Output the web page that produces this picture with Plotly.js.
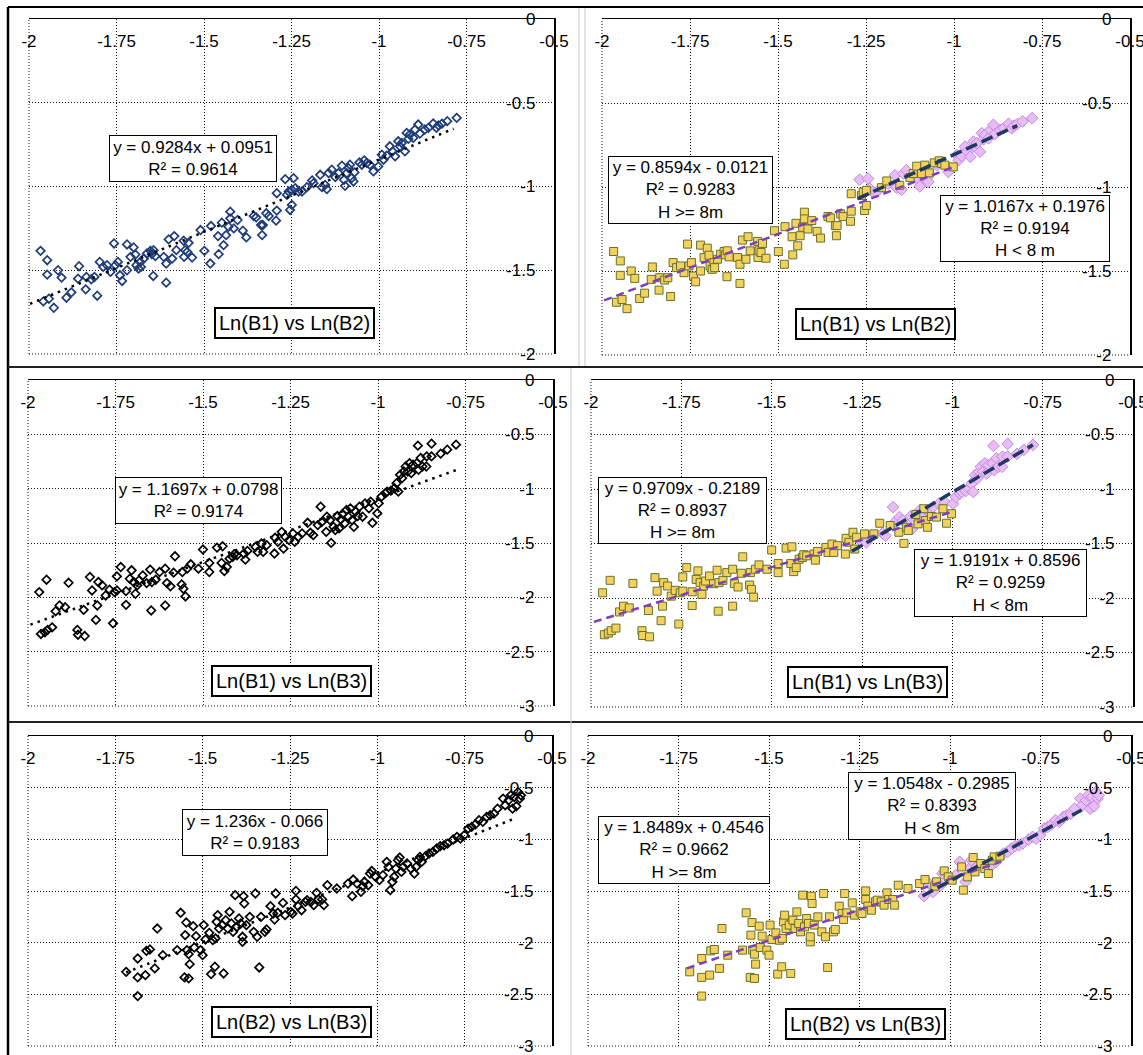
<!DOCTYPE html>
<html><head><meta charset="utf-8">
<script src="https://cdn.plot.ly/plotly-3.0.1.min.js"></script>
<style>html,body{margin:0;padding:0;background:#fff}</style>
</head><body><div id="chart" style="width:1143px;height:1055px"></div>
<script>
// ---------- DATA ----------
// Ln(B1) vs Ln(B2): H >= 8m group
const b12HiX = [-1.967,-1.948,-1.948,-1.917,-1.907,-1.959,-1.943,-1.929,-1.893,-1.879,
-1.860,-1.857,-1.838,-1.836,-1.822,-1.813,-1.805,-1.798,-1.788,-1.777,
-1.767,-1.757,-1.753,-1.746,-1.740,-1.734,-1.720,-1.720,-1.710,-1.701,
-1.696,-1.693,-1.687,-1.682,-1.680,-1.672,-1.663,-1.653,-1.649,-1.644,
-1.645,-1.639,-1.615,-1.608,-1.608,-1.601,-1.591,-1.585,-1.579,-1.558,
-1.557,-1.554,-1.548,-1.544,-1.534,-1.510,-1.499,-1.482,-1.480,-1.460,
-1.458,-1.449,-1.444,-1.437,-1.430,-1.425,-1.425,-1.415,-1.404,-1.389,
-1.379,-1.358,-1.351,-1.337,-1.332,-1.334,-1.322,-1.315,-1.294,-1.292,
-1.292,-1.263,-1.254,-1.249,-1.258,-1.249,-1.206,-1.191,-1.154,-1.125,
-1.116,-1.106,-1.092,-1.083,-1.070,-1.056,-1.042,-1.035,-1.026,-1.002];
const b12HiY = [-1.384,-1.44,-1.526,-1.50,-1.544,-1.686,-1.67,-1.724,-1.664,-1.632,
-1.55,-1.476,-1.614,-1.54,-1.554,-1.54,-1.652,-1.45,-1.48,-1.47,
-1.51,-1.34,-1.47,-1.45,-1.53,-1.564,-1.50,-1.346,-1.42,-1.364,
-1.406,-1.47,-1.49,-1.45,-1.48,-1.43,-1.40,-1.384,-1.404,-1.38,
-1.534,-1.416,-1.42,-1.46,-1.574,-1.316,-1.43,-1.296,-1.38,-1.324,
-1.42,-1.38,-1.39,-1.336,-1.424,-1.26,-1.384,-1.46,-1.236,-1.296,
-1.404,-1.216,-1.35,-1.29,-1.24,-1.15,-1.19,-1.25,-1.20,-1.264,
-1.304,-1.176,-1.184,-1.23,-1.23,-1.29,-1.16,-1.176,-1.204,-1.144,
-1.04,-1.05,-1.14,-1.11,-1.03,-1.02,-1.004,-0.964,-0.99,-0.944,
-0.92,-0.876,-0.92,-0.87,-0.916,-0.856,-0.844,-0.86,-0.87,-0.88];
// Ln(B1) vs Ln(B2): H < 8m group
const b12LoX = [-1.268,-1.244,-1.239,-1.230,-1.220,-1.187,-1.168,-1.163,-1.149,-1.144,
-1.135,-1.100,-1.097,-1.087,-1.078,-1.073,-1.049,-1.016,-0.992,-0.987,
-0.978,-0.969,-0.961,-0.954,-0.945,-0.940,-0.935,-0.926,-0.921,-0.916,
-0.912,-0.902,-0.897,-0.888,-0.883,-0.869,-0.859,-0.845,-0.836,-0.830,
-0.820,-0.805,-0.778];
const b12LoY = [-0.956,-0.95,-1.01,-1.03,-1.03,-0.98,-0.93,-1.004,-1.016,-0.92,
-0.90,-0.96,-0.996,-0.89,-0.95,-0.97,-0.87,-0.91,-0.81,-0.84,
-0.816,-0.76,-0.79,-0.82,-0.73,-0.76,-0.74,-0.79,-0.68,-0.716,
-0.69,-0.71,-0.66,-0.63,-0.684,-0.66,-0.65,-0.624,-0.65,-0.635,
-0.625,-0.61,-0.59];

// Ln(B1) vs Ln(B3)
const b13HiX = [-1.968,-1.947,-1.963,-1.952,-1.944,-1.931,-1.921,-1.910,-1.894,-1.884,
-1.859,-1.857,-1.838,-1.841,-1.823,-1.817,-1.806,-1.802,-1.799,-1.788,
-1.778,-1.767,-1.757,-1.753,-1.746,-1.746,-1.735,-1.720,-1.720,-1.704,
-1.709,-1.698,-1.693,-1.688,-1.683,-1.672,-1.661,-1.651,-1.648,-1.646,
-1.635,-1.624,-1.608,-1.608,-1.603,-1.593,-1.584,-1.580,-1.561,-1.556,
-1.550,-1.559,-1.545,-1.535,-1.513,-1.500,-1.482,-1.482,-1.460,-1.444,
-1.447,-1.439,-1.432,-1.424,-1.415,-1.411,-1.403,-1.383,-1.379,-1.373,
-1.350,-1.344,-1.333,-1.328,-1.318,-1.296,-1.294,-1.286,-1.275,-1.270,
-1.265,-1.243,-1.217,-1.201,-1.172,-1.148,-1.134,-1.127,-1.122,-1.101,
-1.095,-1.079,-1.074,-1.069,-1.058,-1.044,-1.026,-1.016,-1.002];
const b13HiY = [-1.952,-1.838,-2.337,-2.322,-2.300,-2.276,-2.128,-2.075,-2.091,-1.866,
-2.300,-2.344,-2.356,-2.115,-1.813,-1.937,-2.208,-2.075,-1.859,-1.890,
-1.983,-1.930,-2.239,-1.952,-1.937,-1.807,-1.721,-1.943,-2.069,-1.751,
-1.829,-1.859,-1.967,-1.890,-1.844,-1.798,-1.869,-1.745,-2.121,-1.859,
-1.838,-1.767,-1.736,-2.075,-1.869,-1.899,-1.773,-1.622,-1.881,-1.921,
-1.992,-1.767,-1.736,-1.696,-1.736,-1.560,-1.767,-1.684,-1.542,-1.530,
-1.684,-1.758,-1.721,-1.644,-1.628,-1.603,-1.613,-1.597,-1.653,-1.573,
-1.536,-1.582,-1.505,-1.582,-1.520,-1.597,-1.452,-1.489,-1.397,-1.551,
-1.443,-1.412,-1.412,-1.314,-1.335,-1.397,-1.499,-1.351,-1.381,-1.233,
-1.320,-1.181,-1.289,-1.351,-1.252,-1.258,-1.181,-1.314,-1.227];
const b13LoX = [-1.254,-1.238,-1.228,-1.193,-1.185,-1.164,-1.161,-1.146,-1.137,-1.116,
-1.111,-1.106,-1.090,-1.085,-1.064,-1.053,-1.037,-1.021,-0.998,-0.990,
-0.979,-0.974,-0.963,-0.953,-0.947,-0.942,-0.937,-0.931,-0.926,-0.921,
-0.915,-0.910,-0.905,-0.900,-0.889,-0.884,-0.878,-0.873,-0.862,-0.886,
-0.847,-0.861,-0.847,-0.821,-0.802,-0.777];
const b13LoY = [-1.474,-1.489,-1.443,-1.406,-1.428,-1.166,-1.308,-1.258,-1.289,-1.252,
-1.366,-1.283,-1.196,-1.258,-1.212,-1.166,-1.135,-1.119,-1.135,-1.073,
-1.042,-1.027,-1.018,-0.996,-0.950,-1.027,-0.873,-0.903,-0.842,-0.796,
-0.842,-0.765,-0.857,-0.780,-0.765,-0.826,-0.718,-0.796,-0.796,-0.604,
-0.586,-0.703,-0.703,-0.678,-0.641,-0.595];

// Ln(B2) vs Ln(B3)
const b23HiX = [-1.719,-1.686,-1.686,-1.686,-1.664,-1.661,-1.651,-1.637,-1.630,-1.614,
-1.573,-1.563,-1.552,-1.540,-1.550,-1.547,-1.545,-1.540,-1.537,-1.527,
-1.524,-1.519,-1.506,-1.500,-1.497,-1.492,-1.481,-1.476,-1.471,-1.465,
-1.463,-1.460,-1.457,-1.453,-1.444,-1.440,-1.434,-1.428,-1.423,-1.418,
-1.413,-1.407,-1.402,-1.396,-1.391,-1.386,-1.386,-1.383,-1.381,-1.375,
-1.365,-1.354,-1.349,-1.344,-1.338,-1.333,-1.322,-1.317,-1.306,-1.298,
-1.294,-1.291,-1.285,-1.270,-1.264,-1.248,-1.243,-1.233,-1.233,-1.227,
-1.217,-1.206,-1.201,-1.190,-1.182,-1.174,-1.169,-1.158,-1.153,-1.143,
-1.116,-1.084,-1.069,-1.042,-1.037,-1.016,-1.005,-0.994,-0.968,-0.963,
-0.952,-0.936,-0.931,-0.915,-0.904,-0.894,-0.883,-0.878,-0.862];
const b23HiY = [-2.282,-2.153,-2.336,-2.517,-2.314,-2.079,-2.066,-2.249,-1.863,-2.121,
-2.072,-1.711,-2.336,-2.346,-1.927,-1.805,-2.072,-2.111,-2.208,-1.840,
-2.047,-1.937,-2.072,-2.121,-1.830,-1.969,-1.905,-2.304,-1.976,-2.233,
-1.959,-1.798,-1.734,-1.863,-1.830,-2.298,-1.782,-1.863,-1.702,-1.814,
-1.895,-1.540,-1.847,-1.766,-1.814,-1.992,-1.943,-1.550,-1.621,-1.830,
-1.750,-1.895,-1.524,-1.943,-2.240,-1.750,-1.895,-1.872,-1.647,-1.718,
-1.776,-1.524,-1.711,-1.615,-1.734,-1.702,-1.718,-1.499,-1.582,-1.647,
-1.686,-1.605,-1.589,-1.605,-1.637,-1.518,-1.582,-1.582,-1.637,-1.444,
-1.476,-1.428,-1.389,-1.453,-1.411,-1.305,-1.363,-1.395,-1.267,-1.492,
-1.363,-1.176,-1.315,-1.234,-1.283,-1.331,-1.202,-1.170,-1.163];
const b23LoX = [-1.072,-1.058,-1.047,-1.026,-1.021,-0.984,-0.973,-0.957,-0.947,-0.941,
-0.926,-0.889,-0.873,-0.852,-0.841,-0.830,-0.820,-0.809,-0.799,-0.783,
-0.772,-0.762,-0.751,-0.740,-0.730,-0.719,-0.709,-0.698,-0.687,-0.677,
-0.666,-0.656,-0.640,-0.634,-0.624,-0.618,-0.608,-0.597,-0.592,-0.589,
-0.613,-0.602];
const b23LoY = [-1.550,-1.428,-1.508,-1.444,-1.331,-1.347,-1.218,-1.411,-1.283,-1.202,
-1.267,-1.267,-1.218,-1.137,-1.121,-1.089,-1.066,-1.057,-1.041,-1.002,
-0.976,-0.993,-0.960,-0.896,-0.880,-0.854,-0.815,-0.831,-0.783,-0.767,
-0.751,-0.703,-0.606,-0.670,-0.622,-0.574,-0.590,-0.541,-0.606,-0.574,
-0.703,-0.680];

// trend lines as drawn (panel1 all, panel2 H, panel2 L, panel3 all, panel4 H, panel4 L, panel5 all, panel6 H, panel6 L)
const fitSlope     = [0.864, 0.80, 0.96, 1.17, 1.018, 1.95, 1.34, 1.189, 1.89];
const fitIntercept = [0.025, -0.08, 0.153, 0.08, -0.191, 0.92, 0.015, -0.195, 0.486];
const fitXStart    = [-1.997, -1.994, -1.273, -1.993, -1.992, -1.278, -1.719, -1.727, -1.076];
const fitXEnd      = [-0.787, -1.006, -0.820, -0.772, -1.0, -0.777, -0.603, -0.859, -0.636];

// tick labels
const xTickVals = [-2,-1.75,-1.5,-1.25,-1,-0.75,-0.5];
const xTickText = ['-2','-1.75','-1.5','-1.25','-1','-0.75','-0.5'];
const yTickVals2 = [0,-0.5,-1,-1.5,-2];
const yTickText2 = ['0','-0.5','-1','-1.5','-2'];
const yTickVals3 = [0,-0.5,-1,-1.5,-2,-2.5,-3];
const yTickText3 = ['0','-0.5','-1','-1.5','-2','-2.5','-3'];

// texts
const panelTitles = ['Ln(B1) vs Ln(B2)','Ln(B1) vs Ln(B2)','Ln(B1) vs Ln(B3)','Ln(B1) vs Ln(B3)','Ln(B2) vs Ln(B3)','Ln(B2) vs Ln(B3)'];
const eqTexts = [
 'y = 0.9284x + 0.0951<br>R² = 0.9614',
 'y = 0.8594x - 0.0121<br>R² = 0.9283<br>H &gt;= 8m',
 'y = 1.0167x + 0.1976<br>R² = 0.9194<br>H &lt; 8 m',
 'y = 1.1697x + 0.0798<br>R² = 0.9174',
 'y = 0.9709x - 0.2189<br>R² = 0.8937<br>H &gt;= 8m',
 'y = 1.9191x + 0.8596<br>R² = 0.9259<br>H &lt; 8m',
 'y = 1.236x - 0.066<br>R² = 0.9183',
 'y = 1.8489x + 0.4546<br>R² = 0.9662<br>H &gt;= 8m',
 'y = 1.0548x - 0.2985<br>R² = 0.8393<br>H &lt; 8m'
];

// ---------- LAYOUT ----------
const W = 1143, H = 1055;
const FONT = '"Liberation Sans", Arial, sans-serif';
// plot boxes in px: [left, right, top, bottom]
const boxes = [[29,554,19,354],[602,1130,19,355],[28,553,380,706],[591,1133,380,707],[28,552,736,1046],[588,1131,736,1046]];
const yMins = [-2,-2,-3,-3,-3,-3];
// equation boxes: [cx, cy, w, h]
const eqBoxes = [[192.6,158,166,45],[690.5,190,163,66],[1025.3,228.7,168,65],[198.7,500,165,45],[682.9,510.3,167,65],[1000.4,582.9,171,66],[255.3,832.5,144,45],[684,849.5,170,66],[932.3,806.2,166,66]];
const titleBoxes = [[294,323],[875,323.5],[291.5,680.5],[867.3,682],[291.9,1022.3],[865.6,1024.2]];

const layout = {width:W, height:H, margin:{l:0,r:0,t:0,b:0}, paper_bgcolor:'#fff', plot_bgcolor:'#fff',
  showlegend:false, font:{family:FONT, color:'#000'}, shapes:[], annotations:[]};

const GRID = {showgrid:true, gridcolor:'#111', griddash:'1px,2px', gridwidth:1};
const sfx = i => i===0 ? '' : String(i+1);
boxes.forEach((b,i)=>{
  const [l,r,t,bt] = b;
  const s = sfx(i);
  const three = yMins[i] === -3;
  layout['xaxis'+s] = Object.assign({domain:[l/W, r/W], range:[-2,-0.5], anchor:'y'+s, side:'top',
    tickvals:xTickVals, ticktext:xTickText, ticks:'',
    zeroline:false, showline:true, linecolor:'#000', linewidth:1.5,
    ticklabelposition:'inside', ticklabeloverflow:'allow', ticklabelstandoff:17,
    tickfont:{family:FONT, size:17, color:'#000'}, fixedrange:true}, GRID);
  layout['yaxis'+s] = Object.assign({domain:[1-bt/H, 1-t/H], range:[yMins[i],0], anchor:'x'+s, side:'right',
    tickvals: three ? yTickVals3 : yTickVals2, ticktext: three ? yTickText3 : yTickText2, ticks:'',
    zeroline:false, showline:true, linecolor:'#000', linewidth:1.5,
    ticklabelposition:'inside', ticklabeloverflow:'allow', ticklabelstandoff:19,
    tickfont:{family:FONT, size:17, color:'#000'}, fixedrange:true}, GRID);
  // dotted left and bottom borders
  layout.shapes.push({type:'line', xref:'x'+s+' domain', yref:'y'+s+' domain', x0:0, x1:0, y0:0, y1:1, line:{color:'#111', width:1, dash:'1px,2px'}});
  layout.shapes.push({type:'line', xref:'x'+s+' domain', yref:'y'+s+' domain', x0:0, x1:1, y0:0, y1:0, line:{color:'#111', width:1, dash:'1px,2px'}});
  // title box
  layout.annotations.push({xref:'paper', yref:'paper', x:titleBoxes[i][0]/W, y:1-titleBoxes[i][1]/H, xanchor:'center', yanchor:'middle',
    text:panelTitles[i], showarrow:false, font:{family:FONT, size:20, color:'#000'}, bgcolor:'#fff', bordercolor:'#000', borderwidth:2, borderpad:3});
});
eqBoxes.forEach((e,k)=>{
  layout.annotations.push({xref:'paper', yref:'paper', x:e[0]/W, y:1-e[1]/H, xanchor:'center', yanchor:'middle',
    width:e[2], height:e[3], align:'center', valign:'middle',
    text:eqTexts[k], showarrow:false, font:{family:FONT, size:17, color:'#000'}, bgcolor:'#fff', bordercolor:'#000', borderwidth:1, borderpad:0});
});
// frame lines
function pline(x0,y0,x1,y1,color,width){return {type:'line', xref:'paper', yref:'paper', x0:x0/W, x1:x1/W, y0:1-y0/H, y1:1-y1/H, line:{color:color, width:width}};}
layout.shapes.push(pline(8,7,1143,7,'#000',2));
layout.shapes.push(pline(8,7,8,1055,'#000',2.5));
layout.shapes.push(pline(8,367,1143,367,'#222',2));
layout.shapes.push(pline(8,722,1143,722,'#222',2));
layout.shapes.push(pline(579,8,579,366,'#c8c8c8',1));
layout.shapes.push(pline(585,8,585,366,'#c8c8c8',1));
layout.shapes.push(pline(571,368,571,1055,'#c8c8c8',1));

// ---------- TRACES ----------
const traces = [];
function allPts(hx, hy, lx, ly, color, s){
  traces.push({type:'scatter', mode:'markers', x:hx.concat(lx), y:hy.concat(ly), xaxis:'x'+s, yaxis:'y'+s,
    marker:{symbol:'diamond-open', size:6.5, color:color, line:{width:1.7, color:color}}, hoverinfo:'skip'});
}
function groupPts(hx, hy, lx, ly, s){
  traces.push({type:'scatter', mode:'markers', x:lx, y:ly, xaxis:'x'+s, yaxis:'y'+s,
    marker:{symbol:'diamond', size:9, color:'#E8BDF5', line:{width:1, color:'#C387DF'}}, hoverinfo:'skip'});
  traces.push({type:'scatter', mode:'markers', x:hx, y:hy, xaxis:'x'+s, yaxis:'y'+s,
    marker:{symbol:'square', size:8, color:'#F3D15C', line:{width:1, color:'#66722A'}}, hoverinfo:'skip'});
}
function fit(k, s, color, width, dash){
  const xs = [fitXStart[k], fitXEnd[k]];
  traces.push({type:'scatter', mode:'lines', x:xs, y:xs.map(v=>fitSlope[k]*v+fitIntercept[k]), xaxis:'x'+s, yaxis:'y'+s,
    line:{color:color, width:width, dash:dash}, hoverinfo:'skip'});
}
const DOT = '2.5px,5px', PURPLE = '#7E3FBE', NAVY = '#1F3864';
// panel 1
allPts(b12HiX, b12HiY, b12LoX, b12LoY, '#1F3D7A', '');
fit(0, '', '#000', 2.5, DOT);
// panel 2
groupPts(b12HiX, b12HiY, b12LoX, b12LoY, '2');
fit(1, '2', PURPLE, 2.5, '8px,5px');
fit(2, '2', NAVY, 3.5, '12px,5px');
// panel 3
allPts(b13HiX, b13HiY, b13LoX, b13LoY, '#000', '3');
fit(3, '3', '#000', 2.5, DOT);
// panel 4
groupPts(b13HiX, b13HiY, b13LoX, b13LoY, '4');
fit(4, '4', PURPLE, 2.5, '8px,5px');
fit(5, '4', NAVY, 3.5, '12px,5px');
// panel 5
allPts(b23HiX, b23HiY, b23LoX, b23LoY, '#000', '5');
fit(6, '5', '#000', 2.5, DOT);
// panel 6
groupPts(b23HiX, b23HiY, b23LoX, b23LoY, '6');
fit(7, '6', PURPLE, 2.5, '8px,5px');
fit(8, '6', NAVY, 3.5, '12px,5px');

Plotly.newPlot('chart', traces, layout, {staticPlot:true, displayModeBar:false});
</script>
</body></html>
